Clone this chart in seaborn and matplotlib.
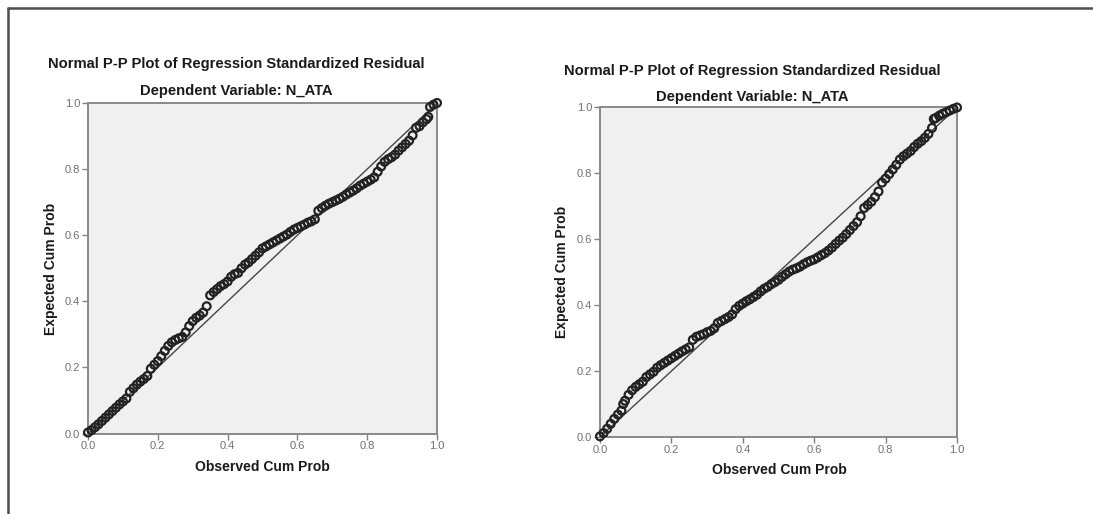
import matplotlib
matplotlib.use("Agg")
import matplotlib.pyplot as plt
from matplotlib.lines import Line2D
import seaborn as sns
import pandas as pd

# Observed vs expected cumulative probabilities of the standardized residuals
obs_a = [0.00, 0.01, 0.02, 0.03, 0.04, 0.05, 0.06, 0.07, 0.08, 0.09,
         0.10, 0.11, 0.12, 0.13, 0.14, 0.15, 0.16, 0.17, 0.18, 0.19,
         0.20, 0.21, 0.22, 0.23, 0.24, 0.25, 0.26, 0.27, 0.28, 0.29,
         0.30, 0.31, 0.32, 0.33, 0.34, 0.35, 0.36, 0.37, 0.38, 0.39,
         0.40, 0.41, 0.42, 0.43, 0.44, 0.45, 0.46, 0.47, 0.48, 0.49,
         0.50, 0.51, 0.52, 0.53, 0.54, 0.55, 0.56, 0.57, 0.58, 0.59,
         0.60, 0.61, 0.62, 0.63, 0.64, 0.65, 0.66, 0.67, 0.68, 0.69,
         0.70, 0.71, 0.72, 0.73, 0.74, 0.75, 0.76, 0.77, 0.78, 0.79,
         0.80, 0.81, 0.82, 0.83, 0.84, 0.85, 0.86, 0.87, 0.88, 0.89,
         0.90, 0.91, 0.92, 0.93, 0.94, 0.95, 0.96, 0.97, 0.975, 0.98,
         0.99, 1.00]
exp_a = [0.003, 0.010, 0.019, 0.028, 0.038, 0.048, 0.058, 0.068, 0.078, 0.088,
         0.097, 0.106, 0.126, 0.137, 0.148, 0.157, 0.165, 0.174, 0.196, 0.208,
         0.219, 0.234, 0.250, 0.265, 0.276, 0.283, 0.288, 0.292, 0.306, 0.325,
         0.340, 0.350, 0.357, 0.366, 0.385, 0.418, 0.428, 0.437, 0.446, 0.452,
         0.460, 0.474, 0.482, 0.486, 0.500, 0.511, 0.518, 0.528, 0.538, 0.548,
         0.560, 0.566, 0.572, 0.578, 0.584, 0.590, 0.596, 0.602, 0.610, 0.617,
         0.622, 0.627, 0.632, 0.638, 0.642, 0.648, 0.674, 0.682, 0.689, 0.695,
         0.700, 0.705, 0.710, 0.716, 0.723, 0.729, 0.735, 0.742, 0.750, 0.756,
         0.762, 0.768, 0.775, 0.792, 0.808, 0.822, 0.830, 0.836, 0.844, 0.856,
         0.866, 0.876, 0.886, 0.902, 0.925, 0.930, 0.942, 0.951, 0.958, 0.988,
         0.995, 1.000]

obs_b = [0.00, 0.01, 0.02, 0.03, 0.04, 0.05, 0.06, 0.065, 0.07, 0.08,
         0.09, 0.10, 0.11, 0.12, 0.13, 0.14, 0.15, 0.16, 0.17, 0.18,
         0.19, 0.20, 0.21, 0.22, 0.23, 0.24, 0.25, 0.26, 0.27, 0.28,
         0.29, 0.30, 0.31, 0.32, 0.33, 0.34, 0.35, 0.36, 0.37, 0.38,
         0.39, 0.40, 0.41, 0.42, 0.43, 0.44, 0.45, 0.46, 0.47, 0.48,
         0.49, 0.50, 0.51, 0.52, 0.53, 0.54, 0.55, 0.56, 0.57, 0.58,
         0.59, 0.60, 0.61, 0.62, 0.63, 0.64, 0.65, 0.66, 0.67, 0.68,
         0.69, 0.70, 0.71, 0.72, 0.73, 0.74, 0.75, 0.76, 0.77, 0.78,
         0.79, 0.80, 0.81, 0.82, 0.83, 0.84, 0.85, 0.86, 0.87, 0.88,
         0.89, 0.90, 0.91, 0.92, 0.93, 0.935, 0.94, 0.95, 0.96, 0.97,
         0.98, 0.99, 1.00]
exp_b = [0.002, 0.012, 0.025, 0.040, 0.055, 0.068, 0.080, 0.100, 0.110, 0.128,
         0.142, 0.152, 0.160, 0.168, 0.182, 0.190, 0.198, 0.210, 0.218, 0.225,
         0.232, 0.239, 0.246, 0.253, 0.260, 0.266, 0.272, 0.295, 0.304, 0.308,
         0.312, 0.318, 0.322, 0.330, 0.346, 0.352, 0.358, 0.364, 0.372, 0.388,
         0.398, 0.405, 0.412, 0.418, 0.425, 0.432, 0.442, 0.450, 0.456, 0.464,
         0.470, 0.477, 0.486, 0.494, 0.502, 0.508, 0.512, 0.517, 0.524, 0.530,
         0.535, 0.539, 0.545, 0.552, 0.558, 0.566, 0.575, 0.586, 0.596, 0.605,
         0.616, 0.628, 0.640, 0.652, 0.670, 0.695, 0.704, 0.714, 0.728, 0.745,
         0.772, 0.784, 0.798, 0.812, 0.826, 0.842, 0.852, 0.860, 0.868, 0.880,
         0.890, 0.898, 0.908, 0.920, 0.938, 0.965, 0.968, 0.975, 0.981, 0.986,
         0.991, 0.996, 1.000]

ref_line = [0.0, 1.0]
tick_vals = [0.0, 0.2, 0.4, 0.6, 0.8, 1.0]
tick_labels = ["0.0", "0.2", "0.4", "0.6", "0.8", "1.0"]

title_main = "Normal P-P Plot of Regression Standardized Residual"
title_sub = "Dependent Variable: N_ATA"
x_label = "Observed Cum Prob"
y_label = "Expected Cum Prob"

sns.set_theme(style="white")
plt.rcParams["font.family"] = ["Liberation Sans", "DejaVu Sans"]

W, H = 1093, 514
fig = plt.figure(figsize=(W / 100, H / 100), dpi=100)
fig.patch.set_facecolor("white")


def fx(px):
    return px / W


def fy(py):
    return 1 - py / H


panels = [
    # (obs, exp, axes box in px [x0, x1, ytop, ybottom], title centre, xlabel pos, ylabel pos)
    (obs_a, exp_a, (88, 437, 103, 433.5), (236.5, 64, 91), (262.5, 467), (51, 269)),
    (obs_b, exp_b, (600, 957, 107.5, 437), (752, 71, 97), (779, 470), (562, 272)),
]

title_font = dict(fontsize=10.6, fontweight="bold", color="#1a1a1a")
label_font = dict(fontsize=10.0, fontweight="bold", color="#1a1a1a")

for obs, exp_, box, tpos, xlpos, ylpos in panels:
    x0, x1, yt, yb = box
    ax = fig.add_axes([fx(x0), fy(yb), fx(x1 - x0), (yb - yt) / H])
    ax.set_facecolor("#f0f0f0")

    df = pd.DataFrame({"observed": obs, "expected": exp_})
    ref = pd.DataFrame({"observed": ref_line, "expected": ref_line})
    sns.lineplot(data=ref, x="observed", y="expected", ax=ax,
                 color="#454545", linewidth=1.0, zorder=2)
    sns.scatterplot(data=df, x="observed", y="expected", ax=ax,
                    marker="o", s=32, facecolor="none",
                    edgecolor="#222222", linewidth=1.6, zorder=3,
                    clip_on=False)

    ax.set_xlim(0, 1)
    ax.set_ylim(0, 1)
    ax.set_xticks(tick_vals)
    ax.set_yticks(tick_vals)
    ax.set_xticklabels(tick_labels)
    ax.set_yticklabels(tick_labels)
    ax.tick_params(axis="both", which="major", direction="out", length=4.5,
                   width=1.0, color="#808080", labelsize=8.0,
                   labelcolor="#707070", pad=1.2, bottom=True, left=True)
    for sp in ax.spines.values():
        sp.set_color("#8a8a8a")
        sp.set_linewidth(1.4)
        sp.set_visible(True)
    ax.set_xlabel("")
    ax.set_ylabel("")

    tcx, ty1, ty2 = tpos
    fig.text(fx(tcx), fy(ty1), title_main, ha="center", va="center", **title_font)
    fig.text(fx(tcx), fy(ty2), title_sub, ha="center", va="center", **title_font)
    fig.text(fx(xlpos[0]), fy(xlpos[1]), x_label, ha="center", va="center", **label_font)
    fig.text(fx(ylpos[0]), fy(ylpos[1]), y_label, ha="center", va="center",
             rotation=90, **label_font)

# frame lines along the left and top edges
fig.add_artist(Line2D([fx(7.5), fx(7.5)], [0, fy(7.5)], color="#4d4d4d",
                      linewidth=1.8, transform=fig.transFigure))
fig.add_artist(Line2D([fx(7.5), 1], [fy(7.5), fy(7.5)], color="#4d4d4d",
                      linewidth=1.8, transform=fig.transFigure))

fig.savefig("out.png", dpi=100, facecolor="white")
